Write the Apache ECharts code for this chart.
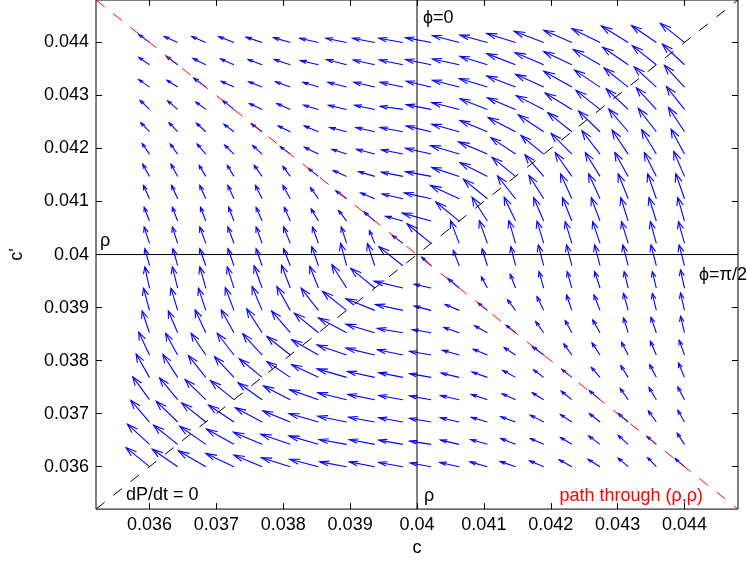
<!DOCTYPE html>
<html><head><meta charset="utf-8">
<script src="https://cdn.jsdelivr.net/npm/echarts@6/dist/echarts.min.js"></script>
<style>html,body{margin:0;padding:0;background:#fff}#chart{width:747px;height:562px}</style>
</head><body><div id="chart"></div>
<script>
// grid positions (c along x, c' along y)
const cGrid = [0.036,0.0364211,0.0368421,0.0372632,0.0376842,0.0381053,0.0385263,0.0389474,0.0393684,0.0397895,0.0402105,0.0406316,0.0410526,0.0414737,0.0418947,0.0423158,0.0427368,0.0431579,0.0435789,0.044];
const cpGrid = [0.036,0.0364211,0.0368421,0.0372632,0.0376842,0.0381053,0.0385263,0.0389474,0.0393684,0.0397895,0.0402105,0.0406316,0.0410526,0.0414737,0.0418947,0.0423158,0.0427368,0.0431579,0.0435789,0.044];
// arrow components (units of 1e-5), rows = c' index (bottom to top), cols = c index
const U = [
[-35,-38,-41,-42,-42,-43,-43,-40,-38,-36,-31,-29,-26,-23,-21,-19,-18,-15,-13,-14],
[-33,-36,-39,-41,-43,-44,-44,-41,-38,-36,-32,-28,-25,-22,-20,-17,-17,-15,-14,-11],
[-28,-32,-36,-38,-40,-41,-44,-43,-39,-36,-32,-28,-24,-22,-20,-17,-16,-15,-12,-10],
[-25,-27,-31,-35,-36,-40,-43,-43,-40,-36,-32,-28,-24,-20,-17,-16,-16,-12,-11,-10],
[-20,-22,-26,-29,-34,-35,-40,-44,-41,-36,-32,-27,-23,-19,-15,-15,-13,-11,-10,-9],
[-16,-18,-22,-25,-29,-35,-40,-44,-43,-38,-32,-25,-21,-17,-17,-12,-12,-10,-9,-8],
[-11,-14,-16,-19,-23,-28,-36,-42,-43,-38,-28,-23,-19,-14,-12,-10,-11,-7,-8,-6],
[-9,-10,-11,-13,-15,-20,-26,-36,-43,-41,-25,-21,-14,-12,-10,-8,-9,-7,-6,-6],
[-7,-8,-9,-10,-12,-13,-13,-22,-36,-43,-25,-17,-9,-8,-7,-7,-8,-6,-6,-6],
[-7,-7,-9,-9,-9,-10,-10,-9,-11,-36,-14,-9,-8,-7,-8,-8,-8,-8,-8,-8],
[-8,-8,-9,-9,-9,-10,-9,-8,-8,-16,-36,-13,-12,-10,-10,-10,-11,-10,-9,-9],
[-8,-8,-8,-8,-9,-9,-11,-12,-16,-26,-43,-35,-23,-17,-15,-14,-13,-11,-11,-10],
[-9,-9,-9,-9,-10,-11,-12,-16,-21,-31,-40,-43,-36,-27,-22,-17,-17,-15,-13,-13],
[-10,-10,-10,-10,-12,-11,-15,-20,-24,-32,-38,-41,-41,-35,-28,-25,-22,-20,-18,-16],
[-11,-11,-13,-14,-14,-15,-21,-22,-27,-32,-38,-43,-43,-37,-34,-31,-27,-24,-22,-20],
[-13,-13,-14,-15,-16,-18,-21,-25,-28,-34,-37,-41,-41,-41,-38,-36,-32,-29,-27,-24],
[-14,-15,-15,-17,-19,-20,-22,-27,-30,-34,-37,-41,-41,-42,-41,-40,-36,-33,-30,-27],
[-16,-16,-18,-19,-20,-22,-23,-28,-31,-34,-37,-40,-42,-43,-42,-42,-38,-36,-33,-30],
[-16,-17,-19,-20,-21,-24,-27,-30,-32,-35,-38,-40,-41,-43,-43,-42,-40,-38,-36,-33],
[-16,-20,-21,-23,-24,-25,-28,-31,-33,-36,-38,-40,-41,-43,-44,-42,-42,-40,-37,-36]
];
const V = [
[36,33,30,25,22,17,14,9,9,8,7,8,9,10,11,13,14,16,17,15],
[38,36,34,29,23,19,16,9,9,8,6,8,9,11,11,13,16,17,15,21],
[41,39,36,32,27,21,16,11,9,8,7,8,9,10,13,14,16,16,21,22],
[43,41,38,36,32,26,19,13,10,8,7,8,10,11,13,16,17,21,23,24],
[44,43,41,39,35,30,24,16,11,9,7,8,10,13,14,15,19,22,24,27],
[43,41,41,41,40,35,29,19,13,10,7,9,11,14,16,21,23,24,26,28],
[41,41,43,43,45,41,37,28,16,8,6,10,13,14,21,23,24,28,29,31],
[42,42,42,43,45,45,42,36,22,11,8,11,14,20,26,29,29,32,32,33],
[40,40,40,40,42,43,41,44,37,13,7,18,21,26,31,31,31,31,31,34],
[32,32,32,32,32,32,36,42,42,36,16,29,32,36,39,39,39,39,39,39],
[31,31,31,31,31,31,31,31,24,15,37,43,43,43,42,41,41,41,41,41],
[26,26,26,26,26,26,23,20,17,9,15,36,45,45,44,44,44,44,44,44],
[25,25,25,25,25,25,21,15,11,9,11,25,37,43,44,47,47,47,47,47],
[23,23,21,21,21,19,15,11,9,8,9,17,26,36,41,45,45,45,45,47],
[20,19,19,17,16,14,13,9,9,8,11,16,23,31,35,39,44,45,46,47],
[17,17,16,14,15,11,11,8,8,8,11,14,21,27,32,36,39,43,44,46],
[17,16,14,17,11,11,8,8,8,6,9,13,20,22,26,31,36,39,41,43],
[14,13,17,11,10,10,9,9,9,9,11,13,16,21,24,30,32,36,38,41],
[14,16,12,11,10,10,8,10,9,9,10,11,16,21,23,25,29,33,36,39],
[15,11,11,11,10,9,8,8,8,8,9,13,14,17,21,23,26,31,32,36]
];
const tickValues = [0.036,0.037,0.038,0.039,0.04,0.041,0.042,0.043,0.044];
const tickLabels = ['0.036','0.037','0.038','0.039','0.04','0.041','0.042','0.043','0.044'];
const axisMin = 0.0352, axisMax = 0.0448;
const dPdtLine = [[0.0352,0.0352],[0.0448,0.0448]];
const pathLine = [[0.0352,0.0448],[0.0448,0.0352]];
const rhoVertical = [[0.04,0.0352],[0.04,0.0448]];
const rhoHorizontal = [[0.0352,0.04],[0.0448,0.04]];

const quiverData = [];
for (let j = 0; j < cpGrid.length; j++) {
  for (let k = 0; k < cGrid.length; k++) {
    quiverData.push([cGrid[k], cpGrid[j], U[j][k] * 1e-5, V[j][k] * 1e-5]);
  }
}

function labelFor(v) {
  let best = 0;
  for (let i = 1; i < tickValues.length; i++) if (Math.abs(tickValues[i]-v) < Math.abs(tickValues[best]-v)) best = i;
  return tickLabels[best];
}

function renderArrow(params, api) {
  const x = api.value(0), y = api.value(1), u = api.value(2), v = api.value(3);
  const a = 0.33, b = 0.33;
  const p0 = api.coord([x, y]);
  const p1 = api.coord([x + u, y + v]);
  const h1 = api.coord([x + u - a * (u + b * v), y + v - a * (v - b * u)]);
  const h2 = api.coord([x + u - a * (u - b * v), y + v - a * (v + b * u)]);
  const st = { stroke: '#0000ff', lineWidth: 1.1, fill: null };
  return { type: 'group', children: [
    { type: 'polyline', shape: { points: [p0, p1] }, style: st },
    { type: 'polyline', shape: { points: [h1, p1, h2] }, style: st }
  ]};
}

const FONT = '"Liberation Sans", Arial, sans-serif';
const tickCommon = { show: true, inside: true, length: 6, customValues: tickValues, lineStyle: { color: '#000', width: 1 } };

const chart = echarts.init(document.getElementById('chart'), null, { renderer: 'canvas' });
const option = {
  animation: false,
  backgroundColor: '#fff',
  grid: { left: 89, top: 0, width: 649, height: 512, show: true, borderColor: '#000', borderWidth: 1, backgroundColor: 'transparent' },
  xAxis: [
    { type: 'value', min: axisMin, max: axisMax, position: 'bottom',
      name: 'c', nameLocation: 'middle', nameGap: 28,
      nameTextStyle: { fontFamily: FONT, fontSize: 18, color: '#000' },
      axisLine: { show: false }, splitLine: { show: false },
      axisTick: tickCommon,
      axisLabel: { show: true, customValues: tickValues, formatter: labelFor, fontFamily: FONT, fontSize: 18, color: '#000', margin: 7 } },
    { type: 'value', min: axisMin, max: axisMax, position: 'top',
      axisLine: { show: false }, splitLine: { show: false }, axisTick: tickCommon, axisLabel: { show: false } }
  ],
  yAxis: [
    { type: 'value', min: axisMin, max: axisMax, position: 'left',
      name: "c'", nameLocation: 'middle', nameGap: 70, nameRotate: 90,
      nameTextStyle: { fontFamily: FONT, fontSize: 18, color: '#000' },
      axisLine: { show: false }, splitLine: { show: false },
      axisTick: tickCommon,
      axisLabel: { show: true, customValues: tickValues, formatter: labelFor, fontFamily: FONT, fontSize: 18, color: '#000', margin: 7 } },
    { type: 'value', min: axisMin, max: axisMax, position: 'right',
      axisLine: { show: false }, splitLine: { show: false }, axisTick: tickCommon, axisLabel: { show: false } }
  ],
  series: [
    { type: 'custom', name: 'field', renderItem: renderArrow, data: quiverData, clip: true, silent: true, z: 2 },
    { type: 'line', data: rhoVertical, symbol: 'none', silent: true, z: 3, lineStyle: { color: '#000', width: 1 } },
    { type: 'line', data: rhoHorizontal, symbol: 'none', silent: true, z: 3, lineStyle: { color: '#000', width: 1 } },
    { type: 'line', data: dPdtLine, symbol: 'none', silent: true, z: 4, lineStyle: { color: '#000', width: 1, type: [11, 11] } },
    { type: 'line', data: pathLine, symbol: 'none', silent: true, z: 4, lineStyle: { color: '#ff0000', width: 1, type: [11, 11] } }
  ],
  graphic: [
    { type: 'text', x: 423, y: 18, z: 10, style: { text: '\u03d5=0', font: '18px ' + FONT, fill: '#000', align: 'left', verticalAlign: 'middle' } },
    { type: 'text', x: 699, y: 275, z: 10, style: { text: '\u03d5=\u03c0/2', font: '18px ' + FONT, fill: '#000', align: 'left', verticalAlign: 'middle' } },
    { type: 'text', x: 100, y: 241, z: 10, style: { text: '\u03c1', font: '18px ' + FONT, fill: '#000', align: 'left', verticalAlign: 'middle' } },
    { type: 'text', x: 424, y: 496, z: 10, style: { text: '\u03c1', font: '18px ' + FONT, fill: '#000', align: 'left', verticalAlign: 'middle' } },
    { type: 'text', x: 126, y: 495, z: 10, style: { text: 'dP/dt = 0', font: '18px ' + FONT, fill: '#000', align: 'left', verticalAlign: 'middle' } },
    { type: 'text', x: 703, y: 496, z: 10, style: { text: 'path through (\u03c1,\u03c1)', font: '18px ' + FONT, fill: '#ff0000', align: 'right', verticalAlign: 'middle' } }
  ]
};
chart.setOption(option);
</script>
</body></html>
